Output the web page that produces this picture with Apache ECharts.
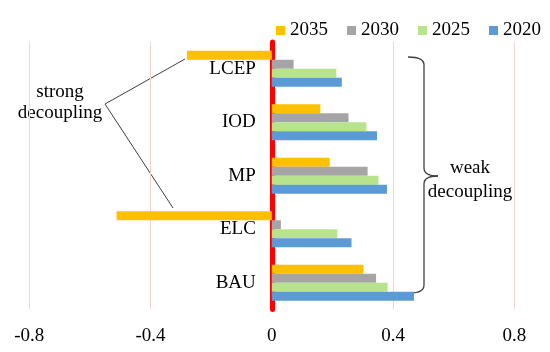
<!DOCTYPE html>
<html>
<head>
<meta charset="utf-8">
<script src="https://cdn.jsdelivr.net/npm/echarts@6/dist/echarts.min.js"></script>
<style>
html,body{margin:0;padding:0;background:#fff;}
#chart{width:550px;height:352px;}
</style>
</head>
<body>
<div id="chart"></div>
<script>
// Categories, bottom to top on the axis
var categories = ['BAU', 'ELC', 'MP', 'IOD', 'LCEP'];
var years = ['2035', '2030', '2025', '2020'];
var values2035 = [0.302, -0.512, 0.191, 0.160, -0.280];
var values2030 = [0.344, 0.030, 0.316, 0.253, 0.072];
var values2025 = [0.382, 0.216, 0.352, 0.312, 0.213];
var values2020 = [0.469, 0.263, 0.380, 0.347, 0.231];
var xTicks = [-0.8, -0.4, 0, 0.4, 0.8];

var seriesValues = [values2035, values2030, values2025, values2020];
var colors = ['#FFC000', '#A5A5A5', '#B7E38C', '#5B9BD5'];
var FONT = '"Liberation Serif", "Times New Roman", serif';
var LINE = { stroke: '#404040', lineWidth: 1.3, fill: null };

var GRID_LEFT = 29.3, GRID_RIGHT = 35.7;
var plotW = 550 - GRID_LEFT - GRID_RIGHT;
var zeroX = GRID_LEFT + plotW * (0 - xTicks[0]) / (xTicks[xTicks.length - 1] - xTicks[0]);

function seg(x1, y1, x2, y2) {
  return { type: 'line', shape: { x1: x1, y1: y1, x2: x2, y2: y2 }, style: LINE };
}
function curve(x1, y1, cx, cy, x2, y2) {
  return { type: 'bezierCurve', shape: { x1: x1, y1: y1, cpx1: cx, cpy1: cy, x2: x2, y2: y2 }, style: LINE };
}

var chart = echarts.init(document.getElementById('chart'));
var option = {
  animation: false,
  backgroundColor: '#fff',
  color: colors,
  grid: { left: GRID_LEFT, right: GRID_RIGHT, top: 42, bottom: 42.5, containLabel: false, outerBoundsMode: 'none' },
  legend: {
    data: years,
    left: 271,
    top: 16,
    itemWidth: 9,
    itemHeight: 9,
    itemGap: 19,
    icon: 'rect',
    textStyle: { fontFamily: FONT, fontSize: 19, color: '#000' }
  },
  xAxis: {
    type: 'value',
    min: xTicks[0],
    max: xTicks[xTicks.length - 1],
    interval: 0.4,
    axisLine: { show: false },
    axisTick: { show: false },
    splitLine: { show: true, lineStyle: { color: '#F2D2D2', width: 1 } },
    axisLabel: { fontFamily: FONT, fontSize: 19, color: '#000', margin: 17 }
  },
  yAxis: {
    type: 'category',
    data: categories,
    axisLine: { show: true, onZero: true, lineStyle: { color: '#FF0000', width: 5 } },
    axisTick: { show: false },
    axisLabel: { fontFamily: FONT, fontSize: 19, color: '#000', margin: -(zeroX - GRID_LEFT - 16) }
  },
  series: years.map(function (y, i) {
    return {
      name: y,
      type: 'bar',
      data: seriesValues[i],
      barWidth: 9,
      barGap: '0%',
      itemStyle: { color: colors[i] }
    };
  }),
  graphic: [
    {
      type: 'text',
      style: {
        text: 'strong\ndecoupling',
        x: 60, y: 103,
        align: 'center', verticalAlign: 'middle',
        fontFamily: FONT, fontSize: 19, lineHeight: 21, fill: '#000'
      }
    },
    {
      type: 'polyline',
      shape: { points: [[185, 59], [105, 104], [173, 208]] },
      style: { stroke: '#404040', lineWidth: 1, fill: null }
    },
    curve(408, 57, 424, 57, 424, 65),
    seg(424, 65, 424, 168),
    curve(424, 168, 424, 176, 438, 176),
    curve(438, 176, 424, 176, 424, 184),
    seg(424, 184, 424, 285),
    curve(424, 285, 424, 293, 410, 293),
    {
      type: 'text',
      style: {
        text: 'weak\ndecoupling',
        x: 470, y: 180,
        align: 'center', verticalAlign: 'middle',
        fontFamily: FONT, fontSize: 19, lineHeight: 24, fill: '#000'
      }
    }
  ]
};
chart.setOption(option);
</script>
</body>
</html>
